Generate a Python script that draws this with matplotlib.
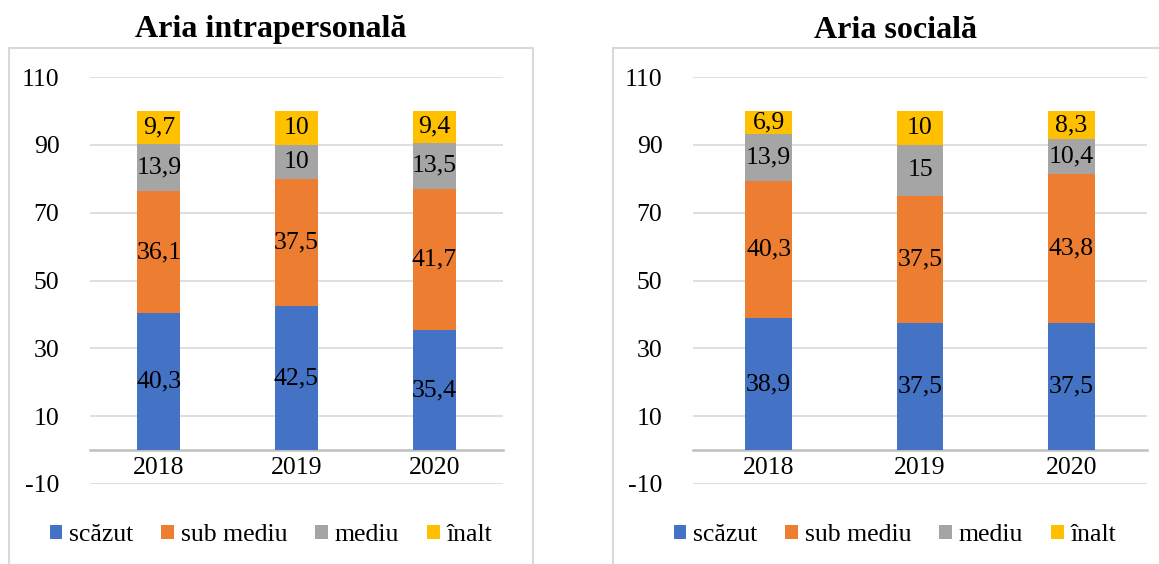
import matplotlib
matplotlib.use('Agg')
import numpy as np
from matplotlib import pyplot as plt
from matplotlib.patches import Rectangle

plt.rcParams['font.family'] = ['Liberation Serif', 'DejaVu Serif']
plt.rcParams['axes.unicode_minus'] = False

years = ['2018', '2019', '2020']
levels = ['scăzut', 'sub mediu', 'mediu', 'înalt']
colors = ['#4472C4', '#ED7D31', '#A5A5A5', '#FFC000']

titles = ['Aria intrapersonală', 'Aria socială']
# intrapersonal
intra_scazut = [40.3, 42.5, 35.4]
intra_sub = [36.1, 37.5, 41.7]
intra_mediu = [13.9, 10, 13.5]
intra_inalt = [9.7, 10, 9.4]
# social
soc_scazut = [38.9, 37.5, 37.5]
soc_sub = [40.3, 37.5, 43.8]
soc_mediu = [13.9, 15, 10.4]
soc_inalt = [6.9, 10, 8.3]

W, H = 1159, 564
fig = plt.figure(figsize=(W / 100, H / 100), dpi=100)


def fx(x):
    return x / W


def fy(y):
    return 1 - y / H


def panel(ax_px, box_px, title, series):
    x0, x1, ytop, ybot = ax_px
    ax = fig.add_axes([fx(x0), fy(ybot), fx(x1 - x0), (ybot - ytop) / H])
    bx0, bx1, by0, by1 = box_px
    fig.patches.append(Rectangle((fx(bx0), fy(by1)), fx(bx1 - bx0), (by1 - by0) / H,
                                 transform=fig.transFigure, fill=False,
                                 edgecolor='#D9D9D9', lw=1.5, zorder=0))
    xpos = np.arange(len(years))
    bottom = np.zeros(len(years))
    handles = []
    for vals, name, c in zip(series, levels, colors):
        bars = ax.bar(xpos, vals, 0.31, bottom=bottom, color=c, label=name, zorder=3)
        ax.bar_label(bars, labels=[f'{v:g}'.replace('.', ',') for v in vals],
                     label_type='center', fontsize=18.5, color='black',
                     family='Liberation Serif')
        bottom += np.array(vals)
        handles.append(bars)
    ax.set_xlim(-0.5, 2.5)
    ax.set_ylim(-10, 110)
    ax.set_yticks(np.arange(-10, 111, 20))
    ax.set_xticks(xpos)
    ax.set_xticklabels(years)
    ax.tick_params(axis='both', length=0, labelsize=18.5)
    ax.tick_params(axis='y', pad=22)
    ax.tick_params(axis='x', pad=5)
    ax.yaxis.grid(True, color='#D9D9D9', lw=1.2, zorder=0)
    ax.set_axisbelow(True)
    for s in ['top', 'right', 'left']:
        ax.spines[s].set_visible(False)
    ax.spines['bottom'].set_position(('data', 0))
    ax.spines['bottom'].set_color('#BFBFBF')
    ax.spines['bottom'].set_linewidth(1.8)
    ax.spines['bottom'].set_zorder(2)
    cx = (bx0 + bx1) / 2
    fig.text(fx(cx), fy(30), title, ha='center', va='center',
             fontsize=23, fontweight='bold', family='Liberation Serif')
    fig.legend(handles, levels, loc='center', bbox_to_anchor=(fx(cx), fy(535)),
               ncol=4, frameon=False, prop={'family': 'Liberation Serif', 'size': 18.5},
               handlelength=0.5, handleheight=0.5, handletextpad=0.25,
               columnspacing=1.1)
    return ax


panel((90, 503, 77, 484), (9, 533, 48, 600), titles[0],
      [intra_scazut, intra_sub, intra_mediu, intra_inalt])
panel((693, 1147, 77, 484), (613, 1177, 48, 600), titles[1],
      [soc_scazut, soc_sub, soc_mediu, soc_inalt])

fig.savefig('out.png', dpi=100)
